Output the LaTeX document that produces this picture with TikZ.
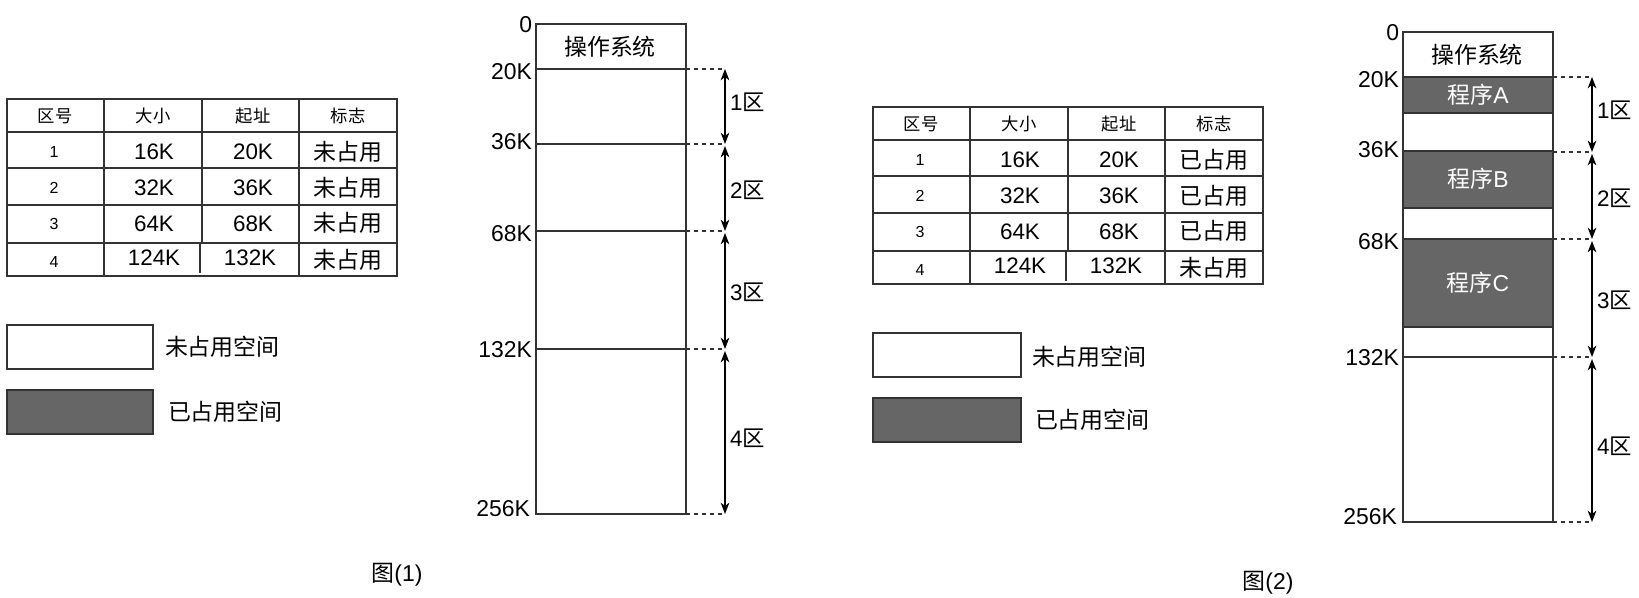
\documentclass[tikz,border=0pt]{standalone}
\usepackage{fontspec}
\setmainfont{Liberation Sans}
\newfontfamily\cjk{Noto Sans CJK SC}
\usetikzlibrary{arrows.meta}
\definecolor{lc}{HTML}{333333}
\definecolor{occ}{HTML}{666666}
\newcommand\memtable[6]{%
\begin{scope}[shift={#2}]
 \draw[line] (0,0) rectangle (390,177);
 \foreach \yy in {33,69,106,144} \draw[line] (0,\yy) -- (390,\yy);
 \draw[line] (97,0) -- (97,177);
 \draw[line] (195,0) -- (195,144);
 \draw[line] (193,144) -- (193,174);
 \draw[line] (292,0) -- (292,177);
 \node[small] (#1h1) at (48,17) {\cjk 区号};
 \node[small] (#1h2) at (146,17) {\cjk 大小};
 \node[small] (#1h3) at (246,17) {\cjk 起址};
 \node[small] (#1h4) at (341,17) {\cjk 标志};
 \node[tiny] (#1n1) at (47,53) {1};
 \node[tiny] (#1n2) at (47,89) {2};
 \node[tiny] (#1n3) at (47,125) {3};
 \node[tiny] (#1n4) at (47,163) {4};
 \node[mid] (#1s1) at (147,53) {16K};
 \node[mid] (#1s2) at (147,89) {32K};
 \node[mid] (#1s3) at (147,125) {64K};
 \node[mid] (#1s4) at (147,159) {124K};
 \node[mid] (#1a1) at (246,53) {20K};
 \node[mid] (#1a2) at (246,89) {36K};
 \node[mid] (#1a3) at (246,125) {68K};
 \node[mid] (#1a4) at (243,159) {132K};
 \node[big] (#1f1) at (341,53) {\cjk #3};
 \node[big] (#1f2) at (341,89) {\cjk #4};
 \node[big] (#1f3) at (341,124) {\cjk #5};
 \node[big] (#1f4) at (341,161) {\cjk #6};
\end{scope}}
\newcommand\memlabels[1]{%
 \node[big, anchor=east] (#1l0) at (-4,1) {0};
 \node[big, anchor=east] (#1l1) at (-4,48) {20K};
 \node[big, anchor=east] (#1l2) at (-4,118) {36K};
 \node[big, anchor=east] (#1l3) at (-4,210) {68K};
 \node[big, anchor=east] (#1l4) at (-4,326) {132K};
 \node[big, anchor=east] (#1l5) at (-6,485) {256K};
 \node[big] (#1os) at (74,23) {\cjk 操作系统};
 \foreach \i/\yy in {1/45,2/120,3/207,4/325,5/490}{
   \coordinate (#1r\i) at (150,\yy);
   \coordinate (#1d\i) at (189,\yy);
   \draw[dim] (#1r\i) -- (#1d\i);
 }
 \draw[dimarrow] (#1d1) -- (#1d2);
 \draw[dimarrow] ([yshift=-1.5]#1d2) -- (#1d3);
 \draw[dimarrow] ([yshift=-1.5]#1d3) -- (#1d4);
 \draw[dimarrow] ([yshift=-1.5]#1d4) -- (#1d5);
 \node[mid, anchor=west] (#1z1) at (194,78) {1{\cjk 区}};
 \node[mid, anchor=west] (#1z2) at (194,166) {2{\cjk 区}};
 \node[mid, anchor=west] (#1z3) at (194,268) {3{\cjk 区}};
 \node[mid, anchor=west] (#1z4) at (194,414) {4{\cjk 区}};
}
\begin{document}
\begin{tikzpicture}[x=0.75pt,y=-0.75pt,
  every node/.style={inner sep=0pt, outer sep=0pt, text=black},
  big/.style={font=\fontsize{17.2}{19}\selectfont},
  mid/.style={font=\fontsize{16.8}{19}\selectfont},
  small/.style={font=\fontsize{13}{15}\selectfont},
  tiny/.style={font=\fontsize{12}{14}\selectfont},
  line/.style={draw=lc, line width=1pt},
  dim/.style={draw=lc, line width=0.9pt, dash pattern=on 3pt off 3pt},
  dimarrow/.style={draw=black, line width=1pt, {Stealth[length=8.5pt,width=6.5pt,inset=2.5pt]}-{Stealth[length=8.5pt,width=6.5pt,inset=2.5pt]}},
  freebox/.style={draw=lc, line width=1pt, fill=white},
  usedbox/.style={draw=lc, line width=1pt, fill=occ},
]
\useasboundingbox[fill=white] (0,0) rectangle (1639,598);

% ---------- Figure 1 ----------
\memtable{ta}{(7,99)}{未占用}{未占用}{未占用}{未占用}

\draw[freebox] (7,325) rectangle (153,369);
\draw[usedbox] (7,390) rectangle (153,434);
\node[big, anchor=west] (ta-free) at (165,347) {\cjk 未占用空间};
\node[big, anchor=west] (ta-used) at (168,412) {\cjk 已占用空间};

\begin{scope}[shift={(536,24)}]
 \draw[freebox] (0,0) rectangle (150,490);
 \foreach \yy in {45,120,207,325} \draw[line] (0,\yy) -- (150,\yy);
 \memlabels{ma}
\end{scope}

\node[big] (cap1) at (397,575) {{\cjk 图}(1)};

% ---------- Figure 2 ----------
\memtable{tb}{(873,107)}{已占用}{已占用}{已占用}{未占用}

\draw[freebox] (873,333) rectangle (1021,377);
\draw[usedbox] (873,398) rectangle (1021,442);
\node[big, anchor=west] (tb-free) at (1032,357) {\cjk 未占用空间};
\node[big, anchor=west] (tb-used) at (1035,420) {\cjk 已占用空间};

\begin{scope}[shift={(1403,32)}]
 \draw[freebox] (0,0) rectangle (150,490);
 \draw[usedbox] (0,45) rectangle (150,81);
 \draw[usedbox] (0,119) rectangle (150,176);
 \draw[usedbox] (0,207) rectangle (150,295);
 \draw[line] (0,45) -- (150,45);
 \draw[line] (0,325) -- (150,325);
 \node[big, text=white] (pa) at (75,63) {{\cjk 程序}A};
 \node[big, text=white] (pb) at (75,147) {{\cjk 程序}B};
 \node[big, text=white] (pc) at (75,251) {{\cjk 程序}C};
 \memlabels{mb}
\end{scope}

\node[big] (cap2) at (1268,583) {{\cjk 图}(2)};
\end{tikzpicture}
\end{document}
